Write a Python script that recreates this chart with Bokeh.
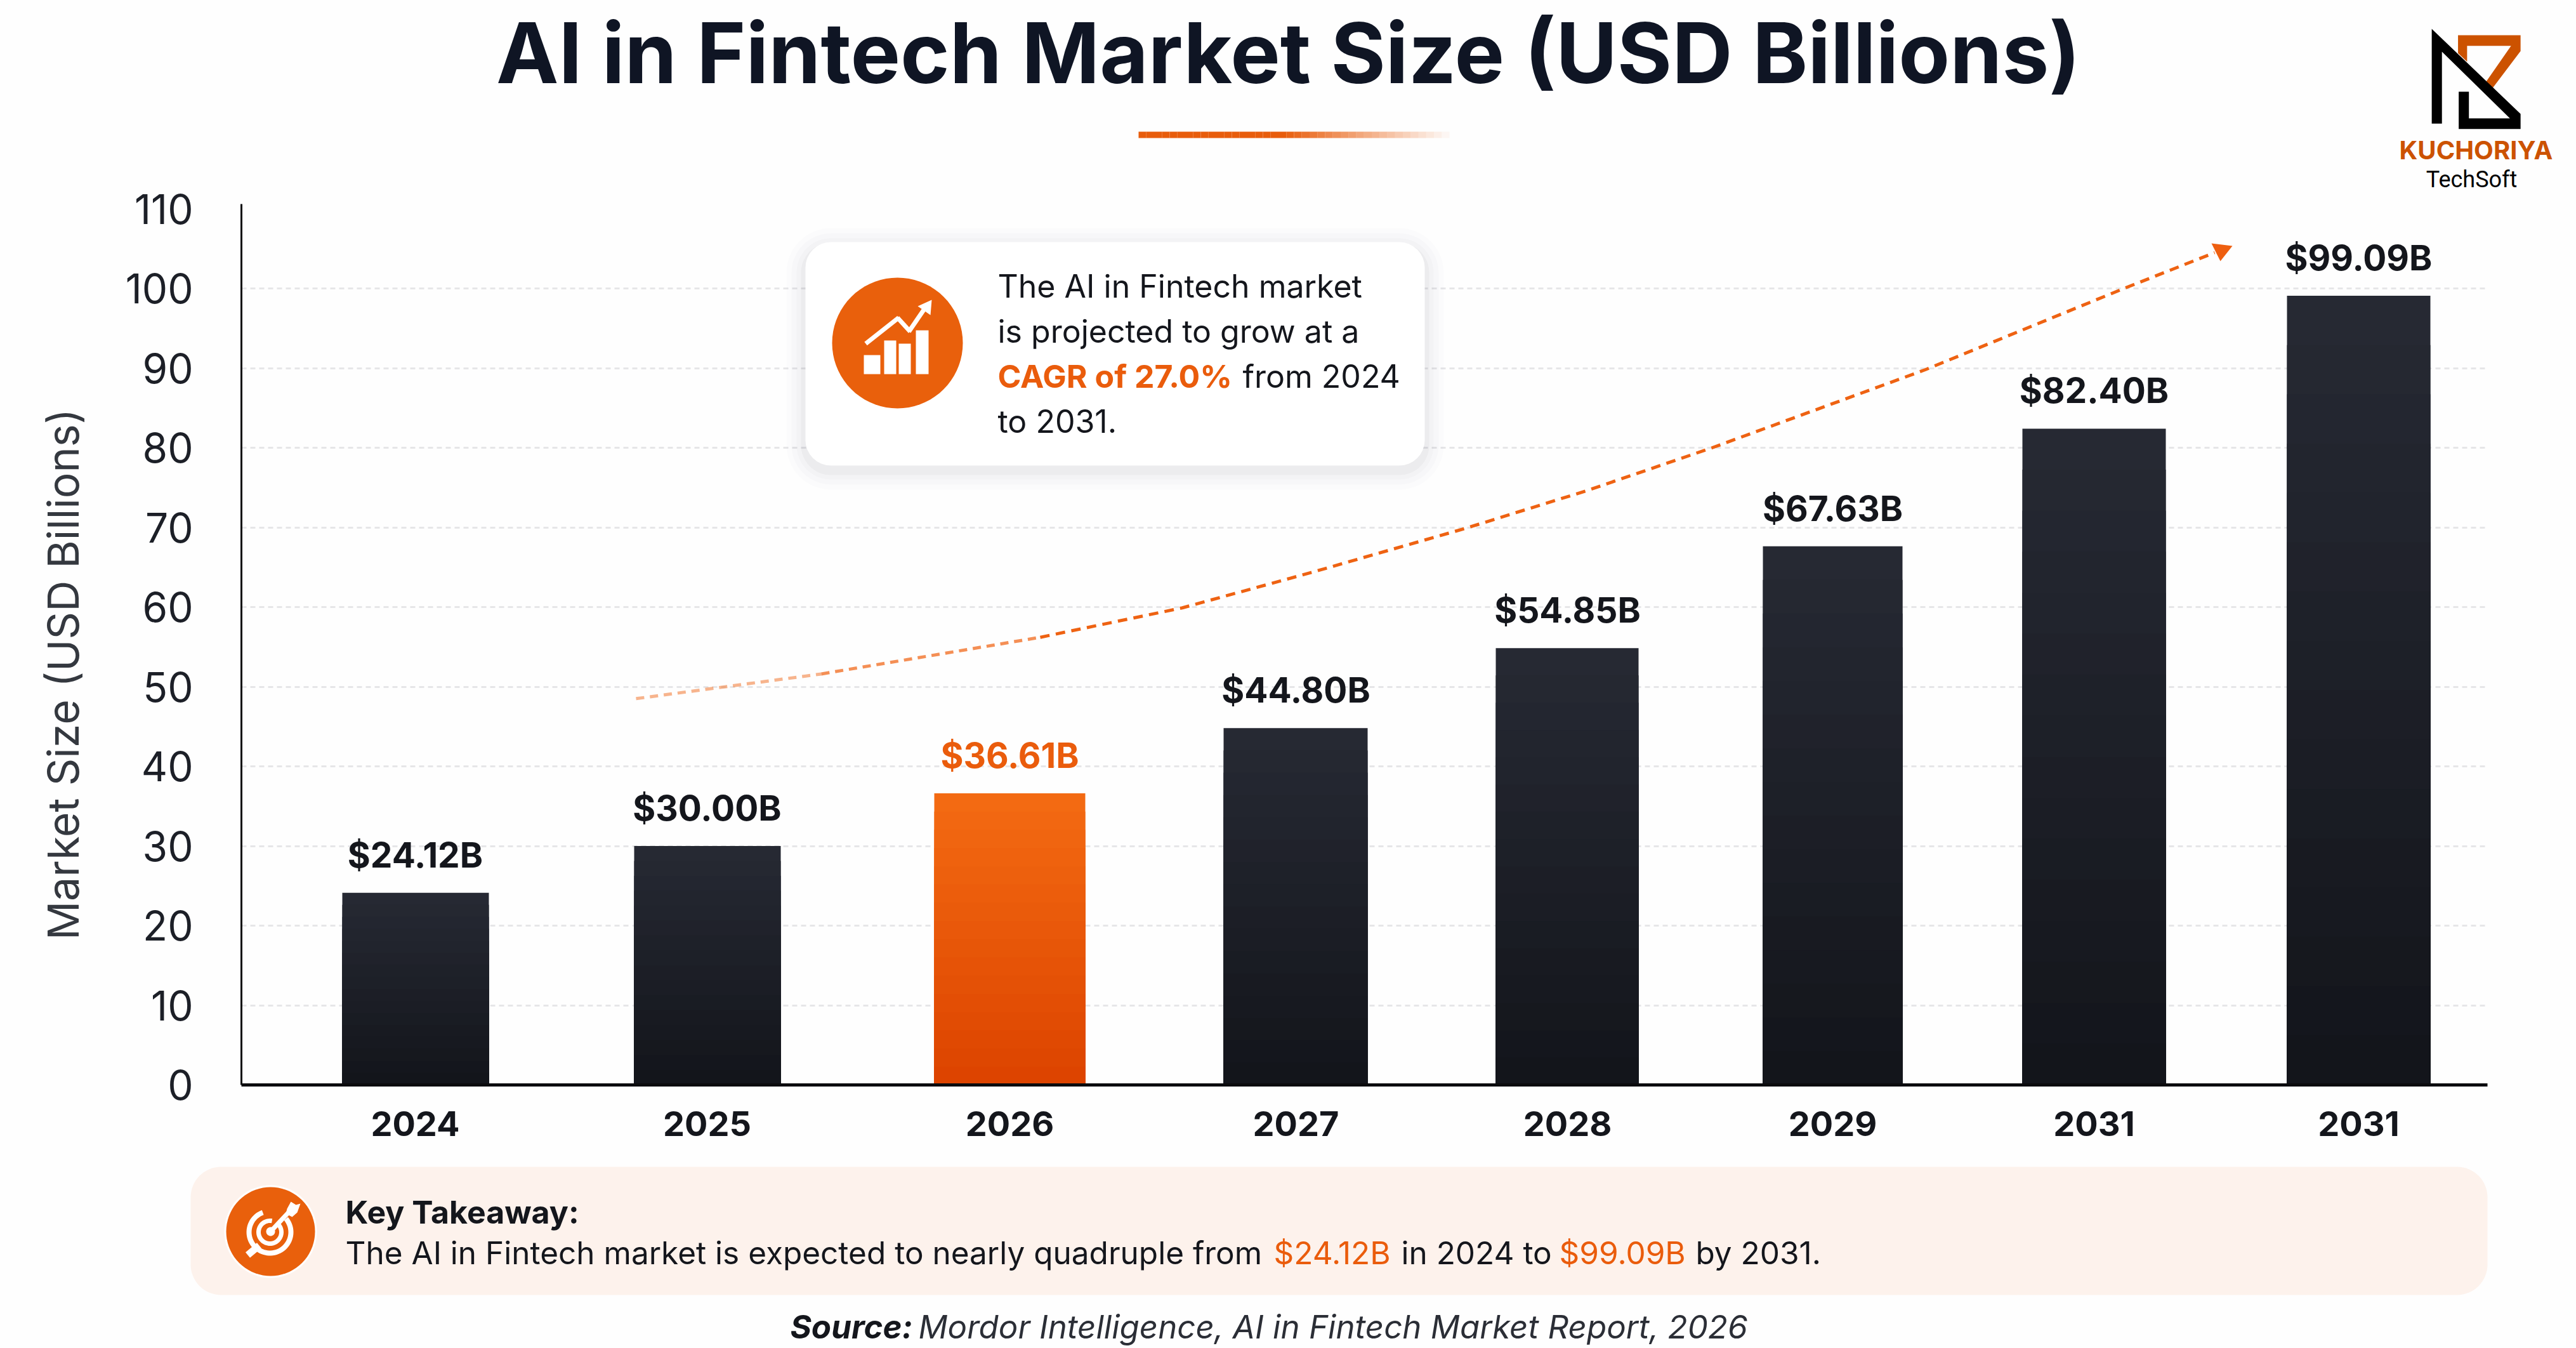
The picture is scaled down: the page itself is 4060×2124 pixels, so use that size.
import numpy as np
from bokeh.plotting import figure
from bokeh.embed import file_html
from bokeh.resources import INLINE
from bokeh.models import Range1d, FixedTicker, Label, BoxAnnotation, PolyAnnotation, ColumnDataSource
from bokeh.core.properties import value

years = ["2024", "2025", "2026", "2027", "2028", "2029", "2031", "2031"]
values = [24.12, 30.00, 36.61, 44.80, 54.85, 67.63, 82.40, 99.09]
value_labels = ["$24.12B", "$30.00B", "$36.61B", "$44.80B", "$54.85B", "$67.63B", "$82.40B", "$99.09B"]
y_ticks = [0, 10, 20, 30, 40, 50, 60, 70, 80, 90, 100, 110]
highlight_index = 2

# Layout (reference image pixels)
bar_left = [539, 999, 1472, 1928, 2357, 2778, 3187, 3604]
bar_right = [770, 1230, 1710, 2155, 2582, 2998, 3413, 3830]
FL, FR, FT, FB = 380, 3920, 321, 1709
S = 12.55  # pixels per market-size unit
W, H = 4060, 2124
trend_x = [1002, 1294, 1639, 1863, 2069, 2310, 2500, 2698, 3034, 3344, 3490]
trend_y = [48.5, 51.6, 56.2, 59.9, 64.4, 69.9, 74.6, 80.0, 89.8, 99.9, 104.5]

FONT = "Inter"
DARK = "#0f1524"
ORANGE = "#ea5c0c"


def val(y):
    return (FB - np.asarray(y, dtype=float)) / S


centers = [round((a + b) / 2) for a, b in zip(bar_left, bar_right)]

p = figure(width=W, height=H, output_backend="svg", toolbar_location=None,
           x_range=Range1d(0, W), y_range=Range1d(float(val(H)), float(val(0))),
           min_border_left=0, min_border_right=0, min_border_top=0, min_border_bottom=0,
           background_fill_color="#fefefe", border_fill_color="#fefefe")
p.outline_line_color = None

# Axes
xa, ya = p.xaxis[0], p.yaxis[0]
xa.fixed_location = 0
xa.bounds = (FL, FR)
xa.ticker = FixedTicker(ticks=centers)
xa.major_label_overrides = {c: y for c, y in zip(centers, years)}
xa.major_label_text_font = FONT
xa.major_label_text_font_style = "bold"
xa.major_label_text_font_size = "54px"
xa.major_label_text_color = "#14161c"
xa.major_label_standoff = 35
xa.axis_line_color = "#0b0b0e"
xa.axis_line_width = 5
xa.major_tick_line_color = None
xa.minor_tick_line_color = None

ya.fixed_location = FL
ya.bounds = (0, float(val(FT)))
ya.ticker = FixedTicker(ticks=y_ticks)
ya.major_label_text_font = FONT
ya.major_label_text_font_size = "64px"
ya.major_label_text_color = "#1c1f27"
ya.major_label_standoff = 70
ya.axis_line_color = "#0b0b0e"
ya.axis_line_width = 3
ya.major_tick_line_color = None
ya.minor_tick_line_color = None

p.xgrid.visible = False
p.ygrid.ticker = FixedTicker(ticks=y_ticks[1:-1])
p.ygrid.cross_bounds = (FL, FR)
p.ygrid.grid_line_color = "#e6e6e8"
p.ygrid.grid_line_width = 3
p.ygrid.grid_line_dash = "8 6"


# Bars, shaded from top to bottom
def lerp(c1, c2, t):
    a = [int(c1[i:i + 2], 16) for i in (1, 3, 5)]
    b = [int(c2[i:i + 2], 16) for i in (1, 3, 5)]
    return "#%02x%02x%02x" % tuple(round(u + (v - u) * t) for u, v in zip(a, b))


STEPS = 16
for i, v in enumerate(values):
    top_c, bot_c = ("#f36a12", "#dd4400") if i == highlight_index else ("#262933", "#13151b")
    for k in range(STEPS):
        p.quad(left=bar_left[i], right=bar_right[i], bottom=0, top=v * (1 - k / STEPS),
               fill_color=lerp(top_c, bot_c, k / (STEPS - 1)), line_color=None)

# Value labels
src = ColumnDataSource(dict(x=centers, y=values, t=value_labels,
                            c=[ORANGE if i == highlight_index else "#14161c" for i in range(len(values))]))
p.text("x", "y", text="t", source=src, text_color="c", text_align="center", text_baseline="middle",
       text_font=value(FONT), text_font_style="bold", text_font_size="55px", y_offset=-60)

# Trend arrow, fading in from its start
p.line(trend_x[:2], trend_y[:2], line_color="#f0691c", line_alpha=0.5, line_width=5, line_dash="13 9")
p.line(trend_x[1:3], trend_y[1:3], line_color="#f0691c", line_alpha=0.75, line_width=5, line_dash="13 9")
p.line(trend_x[2:], trend_y[2:], line_color="#ee6212", line_width=5, line_dash="15 10")
p.patch([3518, 3485, 3499], val([387, 383, 411]), fill_color="#ee5f10", line_color=None)


def lab(x, y, text, size, color=DARK, style="normal", align="left", font=FONT, baseline="middle", angle=0.0):
    p.add_layout(Label(x=x, y=float(val(y)), text=text, text_font=font, text_font_size=f"{size}px",
                       text_color=color, text_font_style=style, text_align=align, text_baseline=baseline,
                       angle=angle))


def poly(xs, ys, fill=None, line=None, lw=0):
    p.add_layout(PolyAnnotation(xs=[float(v) for v in xs], ys=[float(v) for v in val(ys)],
                                fill_color=fill or "#ffffff", fill_alpha=1 if fill else 0,
                                line_color=line or "#ffffff", line_alpha=1 if line else 0,
                                line_width=lw))


def circle(cx, cy, r, fill=None, line=None, lw=0):
    th = np.linspace(0, 2 * np.pi, 73)[:-1]
    poly(cx + r * np.cos(th), cy + r * np.sin(th), fill, line, lw)


def band(cx, cy, r, w, a0, a1, fill="#ffffff"):
    th = np.radians(np.linspace(a0, a1, 60))
    xs = list(cx + (r + w / 2) * np.cos(th)) + list(cx + (r - w / 2) * np.cos(th[::-1]))
    ys = list(cy + (r + w / 2) * np.sin(th)) + list(cy + (r - w / 2) * np.sin(th[::-1]))
    poly(xs, ys, fill)


def stroke(x0, y0, x1, y1, w, fill="#ffffff"):
    dx, dy = x1 - x0, y1 - y0
    n = np.hypot(dx, dy)
    ox, oy = -dy / n * w / 2, dx / n * w / 2
    poly([x0 + ox, x1 + ox, x1 - ox, x0 - ox], [y0 + oy, y1 + oy, y1 - oy, y0 - oy], fill)


def box(l, r, t, b, color, alpha=1.0, radius=0):
    p.add_layout(BoxAnnotation(left=l, right=r, top=float(val(t)), bottom=float(val(b)),
                               fill_color=color, fill_alpha=alpha, line_color=None, border_radius=radius))


# Y-axis title
lab(98, 1062, "Market Size (USD Billions)", 68, "#34383f", align="center", angle=float(np.pi / 2))

# Title and rule
lab(2030, 82, "AI in Fintech Market Size (USD Billions)", 132, style="bold", align="center")
segs = 40
for i in range(segs):
    box(1794 + i * 490 / segs, 1794 + (i + 1) * 490 / segs, 207, 217, "#e85d0c",
        alpha=1.0 if i < segs * 0.45 else max(0.0, 1 - (i - segs * 0.45) / (segs * 0.55)))

# Logo
lx = lambda a: [3500 + v / 2.8 for v in a]
ly = lambda a: [v / 3 for v in a]
poly(lx([1046, 1322, 1322, 1195, 1170, 1280, 1086, 1086, 1046]),
     ly([165, 165, 240, 420, 385, 215, 215, 290, 250]), fill="#cc5200")
poly(lx([930, 1322, 1322, 1049, 1049, 1094, 1094, 1275, 975, 975, 930]),
     ly([135, 537, 608, 608, 432, 432, 558, 558, 243, 583, 583]), fill="#000000")
lab(3902, 236, "KUCHORIYA", 40, color="#cc5200", style="bold", align="center")
lab(3895, 282, "TechSoft", 36, color="#000000", align="center", font="Roboto")

# Callout
for g, a in [(30, 0.012), (22, 0.016), (14, 0.02), (7, 0.03)]:
    box(1269 - g, 2245 + g, 381 - g + 8, 733 + g + 8, "#1a1f2c", a, 40 + g)
box(1269, 2245, 381, 733, "#ffffff", 1, 40)
circle(1414, 540, 103, fill="#e9600c")
for l, r, t in [(1361, 1387, 559), (1393, 1412, 536), (1416, 1435, 541), (1443, 1463, 520)]:
    box(l, r, t, 589, "#ffffff")
stroke(1364, 541, 1416, 500, 7)
stroke(1414, 500, 1434, 522, 7)
stroke(1432, 522, 1458, 484, 7)
poly([1446, 1468, 1466], [482, 472, 496], fill="#ffffff")
CT = "#14161c"
lab(1572, 450, "The AI in Fintech market", 50, CT)
lab(1572, 521, "is projected to grow at a", 50, CT)
lab(1572, 592, "CAGR of 27.0%", 50, ORANGE, "bold")
lab(1958, 592, "from 2024", 50, CT)
lab(1572, 663, "to 2031.", 50, CT)

# Key takeaway
box(300, 3920, 1838, 2040, "#fdf2ec", 1, 48)
circle(426, 1940, 73, fill="#ffffff")
circle(426, 1940, 70, fill="#e9600c")
band(425, 1941, 33, 8, -40, 250)
band(425, 1941, 18, 7, -40, 280)
circle(426, 1940, 7, fill="#ffffff")
stroke(426, 1940, 456, 1908, 7)
poly([452, 458, 466, 473, 468, 460, 450], [1904, 1893, 1898, 1896, 1910, 1917, 1912], fill="#ffffff")
stroke(390, 1977, 408, 1962, 11)
lab(544, 1909, "Key Takeaway:", 50, CT, "bold")
lab(544, 1973, "The AI in Fintech market is expected to nearly quadruple from", 49.5, CT)
lab(2007, 1973, "$24.12B", 49.5, ORANGE)
lab(2208, 1973, "in 2024 to", 49.5, CT)
lab(2457, 1973, "$99.09B", 49.5, ORANGE)
lab(2672, 1973, "by 2031.", 49.5, CT)

# Source
lab(1245, 2090, "Source:", 51, CT, "bold italic")
lab(1447, 2090, "Mordor Intelligence, AI in Fintech Market Report, 2026", 51, "#2b2e36", "italic")

open("out.html", "w").write(file_html(p, INLINE))
